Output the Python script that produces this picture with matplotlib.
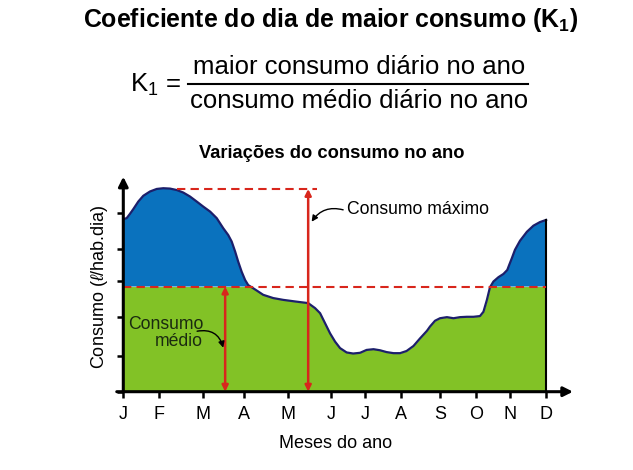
import numpy as np
import matplotlib
matplotlib.use('Agg')
import matplotlib.pyplot as plt
from matplotlib.lines import Line2D

plt.rcParams['font.family'] = ['Liberation Sans', 'DejaVu Sans']
plt.rcParams['mathtext.fontset'] = 'custom'
plt.rcParams['mathtext.rm'] = 'Liberation Sans'
plt.rcParams['mathtext.it'] = 'Liberation Sans:italic'
plt.rcParams['mathtext.bf'] = 'Liberation Sans:bold'

# months (tick positions, slightly uneven)
month_labels = ['J', 'F', 'M', 'A', 'M', 'J', 'J', 'A', 'S', 'O', 'N', 'D']
month_pos = [0, 0.93, 2.08, 3.14, 4.29, 5.40, 6.29, 7.22, 8.24, 9.18, 10.07, 11.0]
ytick_pos = [0, 0.99, 2.08, 3.08, 3.96, 4.95]

# consumption curve
t = [0, 0.088, 0.174, 0.26, 0.39, 0.52, 0.695, 0.87, 1.04, 1.215, 1.39, 1.56, 1.735,
     1.91, 2.08, 2.26, 2.43, 2.60, 2.73, 2.82, 2.91, 2.99, 3.08, 3.17, 3.25, 3.34,
     3.47, 3.64, 3.90, 4.16, 4.51, 4.81, 4.99, 5.12, 5.25, 5.38, 5.51, 5.64, 5.81,
     5.98, 6.16, 6.33, 6.51, 6.68, 6.85, 7.03, 7.20, 7.37, 7.55, 7.72, 7.90, 7.98,
     8.11, 8.24, 8.42, 8.59, 8.76, 8.94, 9.11, 9.28, 9.37, 9.46, 9.54, 9.63, 9.76,
     9.89, 9.99, 10.04, 10.11, 10.19, 10.32, 10.50, 10.67, 10.84, 11.0]
consumo = [4.79, 4.82, 4.94, 5.07, 5.28, 5.44, 5.56, 5.63, 5.65, 5.64, 5.60, 5.53, 5.42,
           5.28, 5.14, 5.00, 4.82, 4.54, 4.35, 4.17, 3.89, 3.61, 3.33, 3.10, 2.96, 2.90,
           2.81, 2.69, 2.60, 2.55, 2.50, 2.46, 2.32, 2.18, 1.90, 1.62, 1.39, 1.21, 1.09,
           1.06, 1.08, 1.16, 1.18, 1.15, 1.10, 1.07, 1.07, 1.13, 1.27, 1.48, 1.69, 1.81,
           1.97, 2.04, 2.07, 2.04, 2.07, 2.08, 2.08, 2.10, 2.22, 2.55, 2.90, 3.06, 3.18,
           3.27, 3.38, 3.52, 3.71, 3.94, 4.19, 4.44, 4.61, 4.71, 4.77]
consumo_medio = 2.92
consumo_max = 5.63

t = np.array(t)
consumo = np.array(consumo)

blue = '#0a72be'
green = '#82c226'
red = '#d8261c'
navy = '#1c1f6b'

fig = plt.figure(figsize=(6.33, 4.70), dpi=100)
W, H = 633.0, 470.0
ax = fig.add_axes([123.3 / W, 1 - 391.7 / H, (573 - 123.3) / W, (391.7 - 176.7) / H])
ax.set_xlim(0, 11.70)
ax.set_ylim(0, 5.97)

ax.fill_between(t, 0, np.minimum(consumo, consumo_medio), color=green, lw=0)
ax.fill_between(t, consumo_medio, consumo, where=consumo >= consumo_medio,
                interpolate=True, color=blue, lw=0)
ax.plot(t, consumo, color=navy, lw=1.6, solid_joinstyle='round')
ax.plot([t[-1], t[-1]], [0, consumo[-1]], color='black', lw=1.5)

# dashed reference lines
ax.plot([0, 11.0], [consumo_medio, consumo_medio], color=red, lw=1.5, ls=(0, (4, 2.5)))
ax.plot([1.40, 5.03], [consumo_max, consumo_max], color=red, lw=1.5, ls=(0, (4, 2.5)))

# double-headed arrows
ax.annotate('', xy=(2.65, consumo_medio), xytext=(2.65, 0),
            arrowprops=dict(arrowstyle='<|-|>', color=red, lw=1.8, mutation_scale=9,
                            shrinkA=0, shrinkB=0))
ax.annotate('', xy=(4.81, consumo_max), xytext=(4.81, 0),
            arrowprops=dict(arrowstyle='<|-|>', color=red, lw=1.8, mutation_scale=9,
                            shrinkA=0, shrinkB=0))

# labels with curved arrows
ax.text(5.81, 5.05, 'Consumo máximo', fontsize=12.7, va='center', ha='left')
ax.annotate('', xy=(4.90, 4.72), xytext=(5.72, 5.05),
            arrowprops=dict(arrowstyle='-|>', color='black', lw=1, mutation_scale=9,
                            shrinkA=0, shrinkB=0, connectionstyle='arc3,rad=0.35'))
ax.text(2.08, 1.63, 'Consumo\nmédio', fontsize=12.7, va='center', ha='right',
        linespacing=1.05, color='#1a2a10')
ax.annotate('', xy=(2.60, 1.22), xytext=(1.92, 1.68),
            arrowprops=dict(arrowstyle='-|>', color='black', lw=1, mutation_scale=9,
                            shrinkA=0, shrinkB=0, connectionstyle='arc3,rad=-0.45'))

# axes with arrowheads
for s in ax.spines.values():
    s.set_visible(False)
ax.annotate('', xy=(11.70, 0), xytext=(-0.17, 0),
            arrowprops=dict(arrowstyle='-|>', color='black', lw=2.2, mutation_scale=14,
                            shrinkA=0, shrinkB=0), annotation_clip=False)
ax.annotate('', xy=(0, 5.97), xytext=(0, 0),
            arrowprops=dict(arrowstyle='-|>', color='black', lw=2.2, mutation_scale=14,
                            shrinkA=0, shrinkB=0), annotation_clip=False)

ax.set_xticks(month_pos)
ax.set_xticklabels(month_labels, fontsize=13)
ax.set_yticks(ytick_pos)
ax.set_yticklabels([])
ax.tick_params(axis='both', direction='out', length=4.5, width=1.8, color='black')
ax.tick_params(axis='x', pad=6)

ax.set_xlabel('Meses do ano', fontsize=13)
ax.xaxis.set_label_coords(0.471, -0.239)
ax.xaxis.label.set_va('center')
ax.set_ylabel(r'Consumo ($\ell$/hab.dia)', fontsize=13)
ax.yaxis.set_label_coords(-0.052, 0.49)
ax.yaxis.label.set_va('center')

# titles and formula
fig.text(331.7 / W, 1 - 153 / H, 'Variações do consumo no ano', fontsize=13.2,
         fontweight='bold', ha='center', va='center')
fig.text(331 / W, 1 - 20 / H, r'Coeficiente do dia de maior consumo (K$_{\mathbf{1}}$)',
         fontsize=17.9, fontweight='bold', ha='center', va='center')
fig.text(156 / W, 1 - 85 / H, r'K$_{1}$ =', fontsize=18.5, ha='center', va='center')
fig.text(359 / W, 1 - 67 / H, 'maior consumo diário no ano', fontsize=18.5,
         ha='center', va='center')
fig.text(359 / W, 1 - 101 / H, 'consumo médio diário no ano', fontsize=18.5,
         ha='center', va='center')
fig.add_artist(Line2D([188 / W, 528 / W], [1 - 83.5 / H, 1 - 83.5 / H],
                      color='black', lw=1.5))

fig.savefig('out.png', dpi=100)
